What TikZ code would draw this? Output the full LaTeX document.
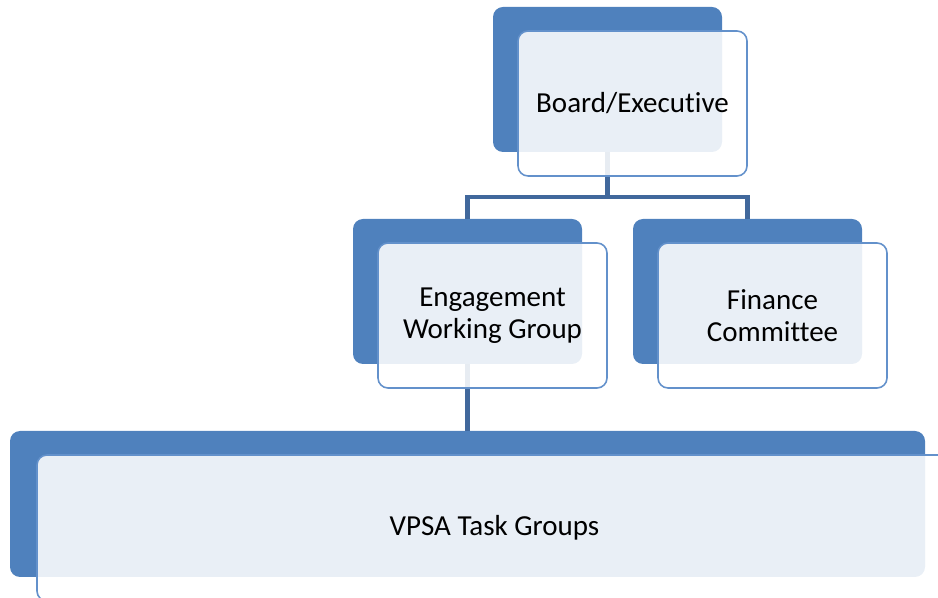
\documentclass[tikz,border=0pt]{standalone}
\usepackage{fontspec}
\setmainfont{Carlito}[RawFeature={-liga;-clig;-calt;-dlig}]
\usetikzlibrary{positioning}
\definecolor{boxblue}{HTML}{4F81BD}
\definecolor{edgeblue}{HTML}{6391CB}
\definecolor{linkblue}{HTML}{41689C}
\begin{document}
\begin{tikzpicture}[
  back/.style={rectangle, rounded corners=0.2cm, fill=boxblue, inner sep=0pt, outer sep=0pt,
    minimum width=4.58cm, minimum height=2.9cm},
  front/.style={rectangle, rounded corners=0.2cm, draw=edgeblue, line width=0.9pt,
    fill=white, fill opacity=0.88, text opacity=1, inner sep=0pt,
    minimum width=4.58cm, minimum height=2.9cm, align=center,
    font=\fontsize{16.5}{18.5}\selectfont},
  link/.style={draw=linkblue, line width=2.3pt}]
\useasboundingbox (0,0) rectangle (18.76,-11.96);
\clip (0,0) rectangle (18.76,-11.96);
% dark boxes behind
\node [back] (board) at (12.15,-1.59) {};
\node [back] (eng) at (9.35,-5.83) {};
\node [back] (fin) at (14.95,-5.83) {};
\node [back, minimum width=18.3cm, minimum height=2.92cm] (vpsa) at (9.35,-10.08) {};
% connectors
\draw [link] (board.south) -- ++(0,-0.9) coordinate (bus);
\draw [link] (eng.north) |- (bus) -| (fin.north);
\draw [link] (eng.south) -- (eng.south |- vpsa.north);
% light boxes in front
\node [front, on grid, below right=0.48cm and 0.5cm of board] (boardf) {Board/Executive};
\node [front, on grid, below right=0.48cm and 0.5cm of eng] (engf) {Engagement\\Working Group};
\node [front, on grid, below right=0.48cm and 0.5cm of fin] (finf) {Finance\\Committee};
\node [front, on grid, below right=0.48cm and 0.54cm of vpsa, minimum width=18.3cm, minimum height=2.92cm] (vpsaf) {VPSA Task Groups};
\end{tikzpicture}
\end{document}
